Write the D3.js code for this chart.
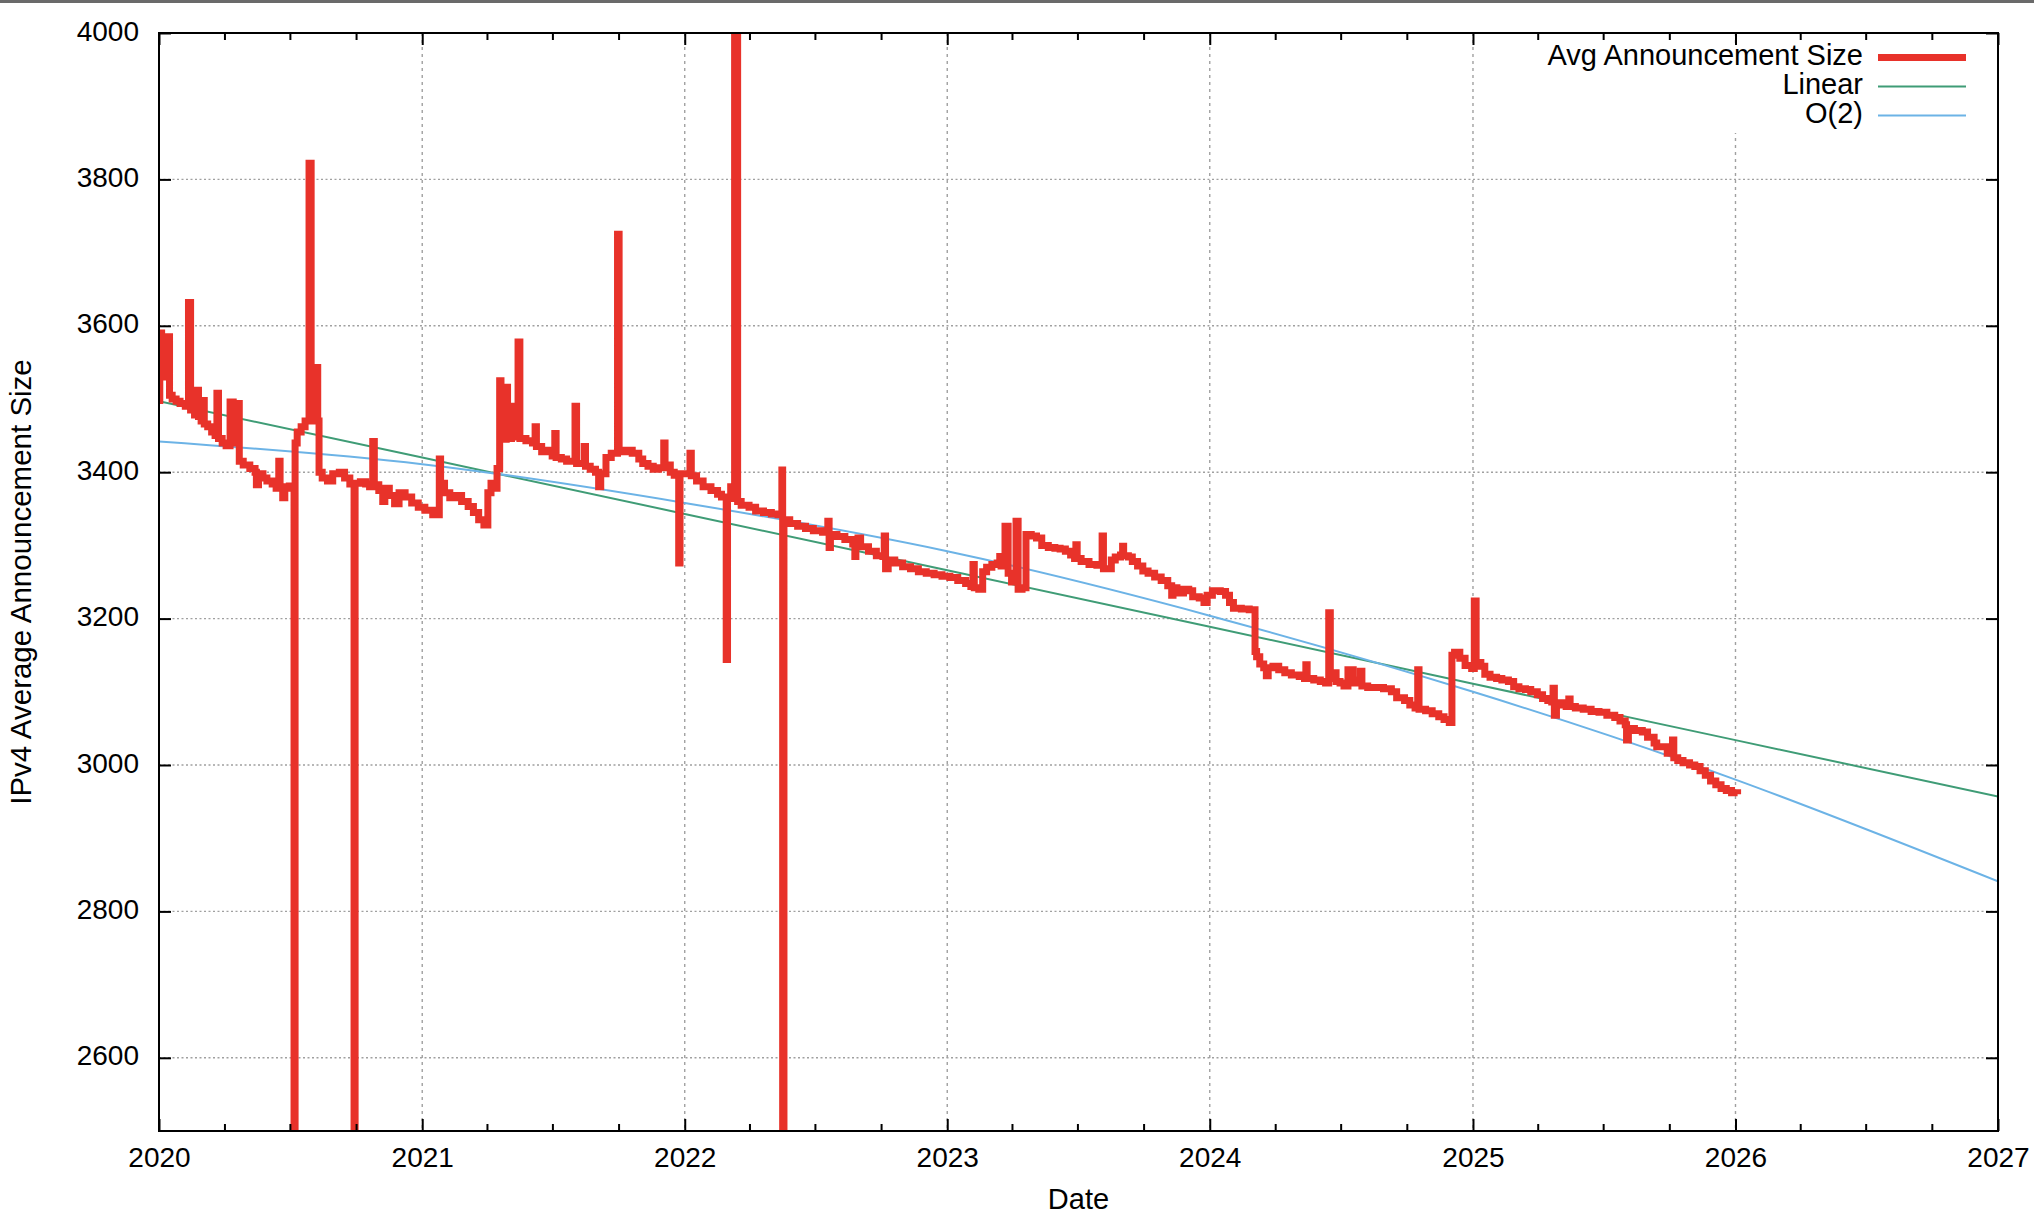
<!DOCTYPE html>
<html>
<head>
<meta charset="utf-8">
<script src="https://cdn.jsdelivr.net/npm/d3@7"></script>
<style>
  html, body { margin: 0; padding: 0; background: #fff; }
  svg { display: block; }
  text { font-family: "Liberation Sans", Arial, Helvetica, sans-serif; fill: #000; }
</style>
</head>
<body>
<svg id="chart" width="2034" height="1220"></svg>
<script>
// ---------------- DATA ----------------
const xTickYears = [2020, 2021, 2022, 2023, 2024, 2025, 2026, 2027];
const yTickValues = [2600, 2800, 3000, 3200, 3400, 3600, 3800, 4000];
const seriesNames = ["Avg Announcement Size", "Linear", "O(2)"];

// [decimal year, value]
const announcementSize = [
[2020.000,3498],[2020.003,3590],[2020.010,3530],[2020.022,3585],[2020.040,3505],[2020.050,3500],[2020.065,3497],[2020.080,3494],
[2020.100,3490],[2020.112,3632],[2020.120,3485],[2020.135,3478],[2020.145,3512],[2020.150,3476],[2020.160,3470],[2020.168,3498],
[2020.172,3466],[2020.185,3462],[2020.200,3455],[2020.213,3450],[2020.220,3508],[2020.226,3446],[2020.240,3440],[2020.255,3436],
[2020.270,3496],[2020.282,3440],[2020.290,3494],[2020.305,3415],[2020.320,3410],[2020.345,3405],[2020.365,3400],[2020.370,3383],
[2020.378,3398],[2020.395,3392],[2020.410,3388],[2020.430,3384],[2020.445,3378],[2020.455,3415],[2020.460,3380],[2020.470,3365],
[2020.478,3378],[2020.495,3381],[2020.513,2000],[2020.517,3440],[2020.525,3455],[2020.540,3462],[2020.555,3470],[2020.570,3822],
[2020.578,3470],[2020.590,3470],[2020.598,3543],[2020.603,3470],[2020.608,3400],[2020.620,3392],[2020.640,3388],[2020.660,3398],
[2020.685,3400],[2020.705,3392],[2020.725,3384],[2020.741,2000],[2020.745,3385],[2020.765,3387],[2020.785,3384],[2020.800,3380],
[2020.812,3442],[2020.818,3383],[2020.835,3375],[2020.850,3360],[2020.858,3378],[2020.875,3368],[2020.895,3357],[2020.912,3372],
[2020.935,3366],[2020.960,3358],[2020.985,3352],[2021.010,3348],[2021.040,3342],[2021.065,3418],[2021.070,3385],[2021.085,3372],
[2021.105,3365],[2021.125,3368],[2021.150,3360],[2021.175,3353],[2021.195,3345],[2021.215,3335],[2021.235,3328],[2021.250,3372],
[2021.262,3385],[2021.275,3378],[2021.285,3405],[2021.295,3525],[2021.300,3450],[2021.312,3445],[2021.320,3516],[2021.325,3446],
[2021.340,3490],[2021.345,3448],[2021.365,3578],[2021.372,3446],[2021.395,3443],[2021.420,3440],[2021.430,3462],[2021.435,3435],
[2021.455,3428],[2021.475,3430],[2021.495,3422],[2021.505,3453],[2021.510,3420],[2021.530,3418],[2021.550,3415],[2021.582,3490],
[2021.588,3412],[2021.617,3435],[2021.622,3408],[2021.640,3404],[2021.660,3400],[2021.672,3380],[2021.680,3398],[2021.700,3420],
[2021.720,3426],[2021.744,3725],[2021.750,3428],[2021.775,3430],[2021.800,3426],[2021.825,3418],[2021.840,3412],[2021.860,3408],
[2021.880,3404],[2021.900,3406],[2021.920,3440],[2021.925,3410],[2021.945,3400],[2021.960,3396],[2021.977,3276],[2021.982,3398],
[2022.010,3398],[2022.020,3426],[2022.025,3395],[2022.045,3388],[2022.070,3380],[2022.100,3375],[2022.125,3370],[2022.140,3366],
[2022.158,3144],[2022.163,3364],[2022.175,3380],[2022.190,4500],[2022.2015,3360],[2022.215,3355],[2022.245,3352],[2022.270,3347],
[2022.300,3345],[2022.330,3343],[2022.355,3342],[2022.370,3403],[2022.373,2000],[2022.378,3335],[2022.400,3330],[2022.430,3326],
[2022.460,3323],[2022.490,3320],[2022.525,3318],[2022.545,3333],[2022.550,3297],[2022.555,3315],[2022.580,3312],[2022.610,3308],
[2022.640,3302],[2022.648,3285],[2022.652,3303],[2022.660,3310],[2022.670,3298],[2022.700,3292],[2022.730,3286],[2022.755,3285],
[2022.760,3313],[2022.765,3268],[2022.775,3280],[2022.800,3276],[2022.830,3271],[2022.860,3268],[2022.890,3264],[2022.920,3262],
[2022.950,3260],[2022.980,3258],[2023.010,3256],[2023.040,3252],[2023.070,3248],[2023.090,3244],[2023.098,3274],[2023.103,3242],
[2023.120,3240],[2023.135,3264],[2023.150,3270],[2023.170,3274],[2023.190,3276],[2023.200,3285],[2023.205,3272],[2023.220,3326],
[2023.232,3262],[2023.245,3250],[2023.262,3333],[2023.270,3240],[2023.285,3242],[2023.300,3315],[2023.320,3313],[2023.340,3310],
[2023.360,3300],[2023.385,3297],[2023.410,3296],[2023.430,3295],[2023.450,3292],[2023.470,3287],[2023.485,3282],[2023.490,3301],
[2023.495,3282],[2023.510,3278],[2023.540,3274],[2023.570,3273],[2023.590,3313],[2023.595,3268],[2023.615,3268],[2023.625,3280],
[2023.640,3284],[2023.660,3287],[2023.668,3299],[2023.672,3286],[2023.690,3284],[2023.705,3278],[2023.725,3272],[2023.745,3265],
[2023.765,3262],[2023.790,3257],[2023.815,3252],[2023.840,3245],[2023.855,3232],[2023.860,3242],[2023.875,3235],[2023.900,3240],
[2023.920,3238],[2023.935,3230],[2023.960,3228],[2023.978,3222],[2023.990,3232],[2024.010,3238],[2024.040,3237],[2024.060,3232],
[2024.075,3222],[2024.090,3214],[2024.120,3213],[2024.150,3212],[2024.172,3155],[2024.178,3148],[2024.190,3138],[2024.205,3133],
[2024.215,3122],[2024.222,3133],[2024.240,3135],[2024.262,3130],[2024.285,3126],[2024.310,3123],[2024.340,3121],[2024.360,3118],
[2024.365,3137],[2024.370,3118],[2024.395,3116],[2024.420,3114],[2024.440,3112],[2024.452,3208],[2024.458,3118],[2024.470,3126],
[2024.480,3114],[2024.495,3112],[2024.510,3108],[2024.525,3130],[2024.545,3112],[2024.565,3116],[2024.572,3128],[2024.578,3108],
[2024.600,3106],[2024.630,3106],[2024.660,3104],[2024.690,3100],[2024.710,3092],[2024.740,3088],[2024.760,3082],[2024.780,3078],
[2024.790,3130],[2024.795,3076],[2024.820,3074],[2024.845,3070],[2024.870,3066],[2024.890,3062],[2024.910,3058],[2024.920,3150],
[2024.930,3154],[2024.950,3146],[2024.970,3136],[2024.995,3132],[2025.005,3224],[2025.012,3140],[2025.030,3135],[2025.045,3124],
[2025.065,3120],[2025.090,3118],[2025.110,3116],[2025.135,3114],[2025.155,3107],[2025.175,3104],[2025.200,3103],[2025.220,3100],
[2025.245,3096],[2025.265,3091],[2025.285,3088],[2025.300,3086],[2025.305,3105],[2025.310,3068],[2025.318,3085],[2025.340,3082],
[2025.355,3080],[2025.365,3090],[2025.370,3080],[2025.390,3078],[2025.420,3076],[2025.450,3073],[2025.480,3072],[2025.510,3068],
[2025.540,3065],[2025.560,3060],[2025.580,3055],[2025.585,3034],[2025.592,3050],[2025.615,3047],[2025.645,3045],[2025.665,3038],
[2025.690,3030],[2025.700,3025],[2025.740,3016],[2025.760,3034],[2025.765,3010],[2025.780,3006],[2025.800,3003],[2025.825,3000],
[2025.845,2998],[2025.865,2992],[2025.885,2986],[2025.905,2978],[2025.925,2973],[2025.945,2968],[2025.965,2965],[2025.985,2962],
[2026.008,2960]
];

const fitYears = [2020, 2021, 2022, 2023, 2024, 2025, 2026, 2027];
const linearValues = [3497, 3420, 3343, 3266, 3189, 3111, 3034, 2957];
const quadValues   = [3442, 3411, 3358, 3292, 3204, 3100, 2980, 2841];

// ---------------- LAYOUT ----------------
const W = 2034, H = 1220;
const pL = 159, pR = 1998, pT = 33, pB = 1131;
const colors = { red: "#e8322a", green: "#3f9c76", blue: "#6cb3e6" };

function toDate(t) {
  const yr = Math.floor(t);
  const s = Date.UTC(yr, 0, 1), e = Date.UTC(yr + 1, 0, 1);
  return new Date(s + (t - yr) * (e - s));
}

const svg = d3.select("#chart");
const x = d3.scaleUtc().domain([toDate(2020), toDate(2027)]).range([pL, pR]);
const y = d3.scaleLinear().domain([2500, 4000]).range([pB, pT]);

// top gray band
svg.append("rect").attr("x", 0).attr("y", 0).attr("width", W).attr("height", 3).attr("fill", "#6a6a6a");

// clip
svg.append("defs").append("clipPath").attr("id", "plotclip")
  .append("rect").attr("x", pL).attr("y", pT).attr("width", pR - pL).attr("height", pB - pT);

// grid
const grid = svg.append("g");
grid.selectAll("line.vg").data(xTickYears.slice(1, -1)).join("line")
  .attr("x1", d => x(toDate(d))).attr("x2", d => x(toDate(d)))
  .attr("y1", pT).attr("y2", pB)
  .attr("stroke", "#a0a0a0").attr("stroke-width", 1.4).attr("stroke-dasharray", "3,4");
grid.selectAll("line.hg").data(yTickValues.filter(v => v < 4000)).join("line")
  .attr("x1", pL).attr("x2", pR)
  .attr("y1", d => y(d)).attr("y2", d => y(d))
  .attr("stroke", "#a0a0a0").attr("stroke-width", 1.4).attr("stroke-dasharray", "2,2.5");

// series
const plot = svg.append("g").attr("clip-path", "url(#plotclip)");
const fitLine = d3.line().x(d => x(toDate(d[0]))).y(d => y(d[1]));
plot.append("path")
  .datum(fitYears.map((t, i) => [t, linearValues[i]]))
  .attr("d", fitLine).attr("fill", "none").attr("stroke", colors.green).attr("stroke-width", 2);
plot.append("path")
  .datum(fitYears.map((t, i) => [t, quadValues[i]]))
  .attr("d", fitLine.curve(d3.curveNatural)).attr("fill", "none").attr("stroke", colors.blue).attr("stroke-width", 2);

const stepLine = d3.line().x(d => x(toDate(d[0]))).y(d => y(d[1])).curve(d3.curveStepAfter);
plot.append("path")
  .datum(announcementSize)
  .attr("d", stepLine).attr("fill", "none").attr("stroke", colors.red)
  .attr("stroke-width", 7).attr("stroke-linejoin", "miter");

// legend
const lg = svg.append("g");
lg.append("rect").attr("x", 1528).attr("y", 45).attr("width", 462).attr("height", 88).attr("fill", "#fff");
const legendItems = [
  { name: seriesNames[0], color: colors.red, w: 7 },
  { name: seriesNames[1], color: colors.green, w: 2 },
  { name: seriesNames[2], color: colors.blue, w: 2 }
];
legendItems.forEach((it, i) => {
  const base = 65 + i * 29;
  lg.append("text").attr("x", 1863).attr("y", base).attr("text-anchor", "end")
    .attr("font-size", 29).text(it.name);
  lg.append("line").attr("x1", 1878).attr("x2", 1966).attr("y1", base - 7.5).attr("y2", base - 7.5)
    .attr("stroke", it.color).attr("stroke-width", it.w);
});

// axes (ticks inward)
const minorDates = [];
xTickYears.slice(0, -1).forEach(yr => [3, 6, 9].forEach(m => minorDates.push(new Date(Date.UTC(yr, m, 1)))));
const majorDates = xTickYears.map(toDate);

function styleAxis(g) {
  g.select(".domain").remove();
  g.selectAll(".tick line").attr("stroke", "#000").attr("stroke-width", 2);
}
svg.append("g").attr("transform", `translate(0,${pB})`)
  .call(d3.axisBottom(x).tickValues(minorDates).tickSize(-7).tickFormat(""))
  .call(styleAxis).selectAll("text").remove();
svg.append("g").attr("transform", `translate(0,${pT})`)
  .call(d3.axisTop(x).tickValues(minorDates).tickSize(-7).tickFormat(""))
  .call(styleAxis).selectAll("text").remove();
svg.append("g").attr("transform", `translate(0,${pT})`)
  .call(d3.axisTop(x).tickValues(majorDates).tickSize(-12).tickFormat(""))
  .call(styleAxis).selectAll("text").remove();

const xb = svg.append("g").attr("transform", `translate(0,${pB})`)
  .call(d3.axisBottom(x).tickValues(majorDates).tickSize(-12).tickFormat(d3.utcFormat("%Y")))
  .call(styleAxis);
xb.selectAll(".tick text").attr("y", 36).attr("dy", null).attr("font-size", 28)
  .attr("font-family", "Liberation Sans, Arial, sans-serif").attr("fill", "#000");

const yl = svg.append("g").attr("transform", `translate(${pL},0)`)
  .call(d3.axisLeft(y).tickValues(yTickValues).tickSize(-12).tickFormat(d3.format("d")))
  .call(styleAxis);
yl.selectAll(".tick text").attr("x", -20).attr("dy", 7).attr("font-size", 28)
  .attr("font-family", "Liberation Sans, Arial, sans-serif").attr("fill", "#000");
svg.append("g").attr("transform", `translate(${pR},0)`)
  .call(d3.axisRight(y).tickValues(yTickValues).tickSize(-12).tickFormat(""))
  .call(styleAxis).selectAll("text").remove();

// frame
svg.append("rect").attr("x", pL).attr("y", pT).attr("width", pR - pL).attr("height", pB - pT)
  .attr("fill", "none").attr("stroke", "#000").attr("stroke-width", 2);

// axis titles
svg.append("text").attr("x", (pL + pR) / 2).attr("y", 1209).attr("text-anchor", "middle")
  .attr("font-size", 29).text("Date");
svg.append("text").attr("transform", `translate(31,${(pT + pB) / 2}) rotate(-90)`)
  .attr("text-anchor", "middle").attr("font-size", 29.5).text("IPv4 Average Announcement Size");
</script>
</body>
</html>
